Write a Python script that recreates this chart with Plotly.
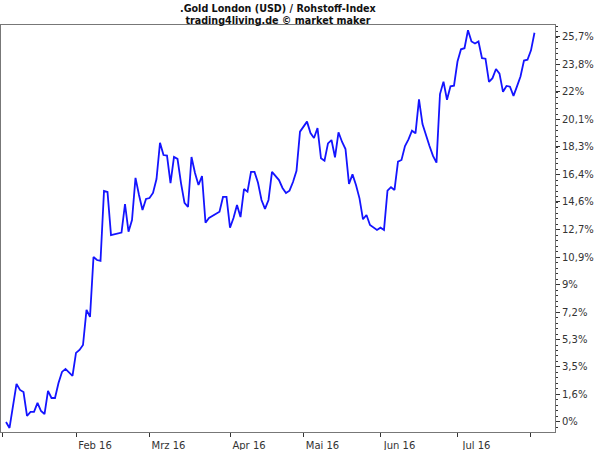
import plotly.graph_objects as go

# ---- data ----
dates = [
    "2016-01-04", "2016-01-05", "2016-01-07", "2016-01-08", "2016-01-11", "2016-01-12",
    "2016-01-13", "2016-01-14", "2016-01-15", "2016-01-18", "2016-01-19", "2016-01-20",
    "2016-01-21", "2016-01-22", "2016-01-25", "2016-01-26", "2016-01-27", "2016-01-28",
    "2016-01-29", "2016-02-01", "2016-02-02", "2016-02-03", "2016-02-04", "2016-02-05",
    "2016-02-08", "2016-02-09", "2016-02-10", "2016-02-11", "2016-02-12", "2016-02-15",
    "2016-02-16", "2016-02-17", "2016-02-18", "2016-02-19", "2016-02-22", "2016-02-23",
    "2016-02-24", "2016-02-25", "2016-02-26", "2016-02-29", "2016-03-01", "2016-03-02",
    "2016-03-03", "2016-03-04", "2016-03-07", "2016-03-08", "2016-03-09", "2016-03-10",
    "2016-03-11", "2016-03-14", "2016-03-15", "2016-03-16", "2016-03-17", "2016-03-18",
    "2016-03-21", "2016-03-22", "2016-03-23", "2016-03-24", "2016-03-29", "2016-03-30",
    "2016-03-31", "2016-04-01", "2016-04-04", "2016-04-05", "2016-04-06", "2016-04-07",
    "2016-04-08", "2016-04-11", "2016-04-12", "2016-04-13", "2016-04-14", "2016-04-15",
    "2016-04-18", "2016-04-19", "2016-04-20", "2016-04-21", "2016-04-22", "2016-04-25",
    "2016-04-26", "2016-04-27", "2016-04-28", "2016-04-29", "2016-05-03", "2016-05-04",
    "2016-05-05", "2016-05-06", "2016-05-09", "2016-05-10", "2016-05-11", "2016-05-12",
    "2016-05-13", "2016-05-16", "2016-05-17", "2016-05-18", "2016-05-19", "2016-05-20",
    "2016-05-23", "2016-05-24", "2016-05-25", "2016-05-26", "2016-05-27", "2016-05-30",
    "2016-05-31", "2016-06-01", "2016-06-02", "2016-06-03", "2016-06-06", "2016-06-07",
    "2016-06-08", "2016-06-09", "2016-06-10", "2016-06-13", "2016-06-14", "2016-06-15",
    "2016-06-16", "2016-06-17", "2016-06-20", "2016-06-21", "2016-06-22", "2016-06-23",
    "2016-06-24", "2016-06-27", "2016-06-28", "2016-06-29", "2016-06-30", "2016-07-01",
    "2016-07-04", "2016-07-05", "2016-07-06", "2016-07-07", "2016-07-08", "2016-07-11",
    "2016-07-12", "2016-07-13", "2016-07-14", "2016-07-15", "2016-07-18", "2016-07-19",
    "2016-07-20", "2016-07-21", "2016-07-22", "2016-07-25", "2016-07-26", "2016-07-27",
    "2016-07-28", "2016-07-29", "2016-08-01", "2016-08-02",
]
perf_pct = [
    0.00, -0.40, 2.54, 2.14, 2.00, 0.40,
    0.67, 0.67, 1.27, 0.73, 0.53, 2.07,
    1.60, 1.60, 2.60, 3.34, 3.54, 3.27,
    3.07, 4.61, 4.81, 5.14, 7.48, 7.01,
    11.01, 10.81, 10.75, 15.42, 15.35, 12.48,
    12.55, 12.62, 12.64, 14.55, 12.70, 13.48,
    16.29, 15.15, 14.15, 14.89, 14.95, 15.29,
    16.22, 18.64, 17.82, 17.78, 15.95, 17.69,
    17.56, 15.95, 14.62, 14.35, 17.69, 16.62,
    15.82, 16.42, 13.30, 13.62, 14.04, 15.02,
    15.02, 12.97, 13.62, 14.48, 13.68, 15.55,
    15.37, 16.69, 16.69, 15.97, 14.82, 14.22,
    14.82, 16.69, 16.45, 16.15, 15.62, 15.29,
    15.44, 16.02, 16.77, 19.38, 20.05, 19.29,
    18.96, 19.62, 17.60, 17.44, 18.60, 18.82,
    17.67, 19.34, 18.71, 18.22, 15.89, 16.53,
    15.82, 14.93, 13.53, 13.82, 13.15, 13.00,
    12.82, 12.97, 12.82, 15.44, 15.67, 15.49,
    17.38, 17.49, 18.42, 18.87, 19.44, 19.27,
    21.54, 19.89, 19.09, 18.42, 17.76, 17.31,
    21.89, 22.72, 21.51, 22.41, 22.45, 24.06,
    24.88, 24.95, 26.15, 25.40, 25.26, 25.40,
    24.28, 24.25, 22.71, 22.95, 23.56, 23.25,
    22.04, 22.43, 22.38, 21.77, 22.40, 23.06,
    24.13, 24.18, 24.81, 25.98,
]

y_tick_vals = [0.0, 1.84, 3.67, 5.51, 7.34, 9.18, 11.01, 12.85,
               14.69, 16.52, 18.36, 20.19, 22.03, 23.86, 25.70]
y_tick_text = ["0%", "1,6%", "3,5%", "5,3%", "7,2%", "9%", "10,9%", "12,7%",
               "14,6%", "16,4%", "18,3%", "20,1%", "22%", "23,8%", "25,7%"]

x_tick_vals = ["2016-01-01", "2016-02-01", "2016-03-01", "2016-04-01",
               "2016-05-02", "2016-06-01", "2016-07-01", "2016-08-01"]
x_tick_text = ["", "Feb 16", "Mrz 16", "Apr 16", "Mai 16", "Jun 16", "Jul 16", ""]

title_lines = [".Gold London (USD) / Rohstoff-Index", "trading4living.de © market maker"]

# ---- figure ----
fig = go.Figure()
fig.add_trace(go.Scatter(
    x=dates, y=perf_pct, mode="lines",
    line=dict(color="#1414ff", width=1.8),
    hoverinfo="skip", showlegend=False,
))

font_main = "DejaVu Sans, Verdana, sans-serif"
plot_top, plot_bottom = 25, 432
plot_h = plot_bottom - plot_top

fig.update_layout(
    width=600, height=450,
    margin=dict(l=1, r=45, t=plot_top, b=450 - plot_bottom, pad=0, autoexpand=False),
    paper_bgcolor="white", plot_bgcolor="white",
    font=dict(family=font_main, size=10, color="#333333"),
    showlegend=False,
    annotations=[
        dict(text="<b>" + "<br>".join(title_lines) + "</b>",
             x=0.5, xref="paper", y=1 + (plot_top - 0.5) / plot_h, yref="paper",
             xanchor="center", yanchor="top", showarrow=False,
             font=dict(family=font_main, size=9.6, color="#111111")),
    ],
)

fig.update_xaxes(
    type="date", automargin=False,
    range=["2015-12-31 13:40", "2016-08-09 20:40"],
    rangebreaks=[dict(bounds=["sat", "mon"])],
    tickmode="array", tickvals=x_tick_vals, ticktext=x_tick_text,
    ticks="outside", ticklen=4, tickcolor="#333333", tickwidth=1,
    ticklabelshift=19, ticklabelstandoff=0,
    showgrid=False, zeroline=False,
    showline=True, linecolor="#777777", linewidth=1, mirror=True,
    tickfont=dict(family=font_main, size=10, color="#333333"),
)

fig.update_yaxes(
    side="right", automargin=False,
    range=[-0.67, 26.50],
    tickmode="array", tickvals=y_tick_vals, ticktext=y_tick_text,
    ticks="outside", ticklen=4, tickcolor="#333333", tickwidth=1,
    minor=dict(ticks="outside", ticklen=2, tickcolor="#333333", dtick=0.367, tick0=0),
    showgrid=False, zeroline=False,
    showline=True, linecolor="#777777", linewidth=1, mirror=True,
    tickfont=dict(family=font_main, size=10, color="#333333"),
)

fig.write_html(
    "out.html",
    config={"displayModeBar": False, "staticPlot": True},
    post_script="document.body.style.margin='0';document.body.style.padding='0';",
)
